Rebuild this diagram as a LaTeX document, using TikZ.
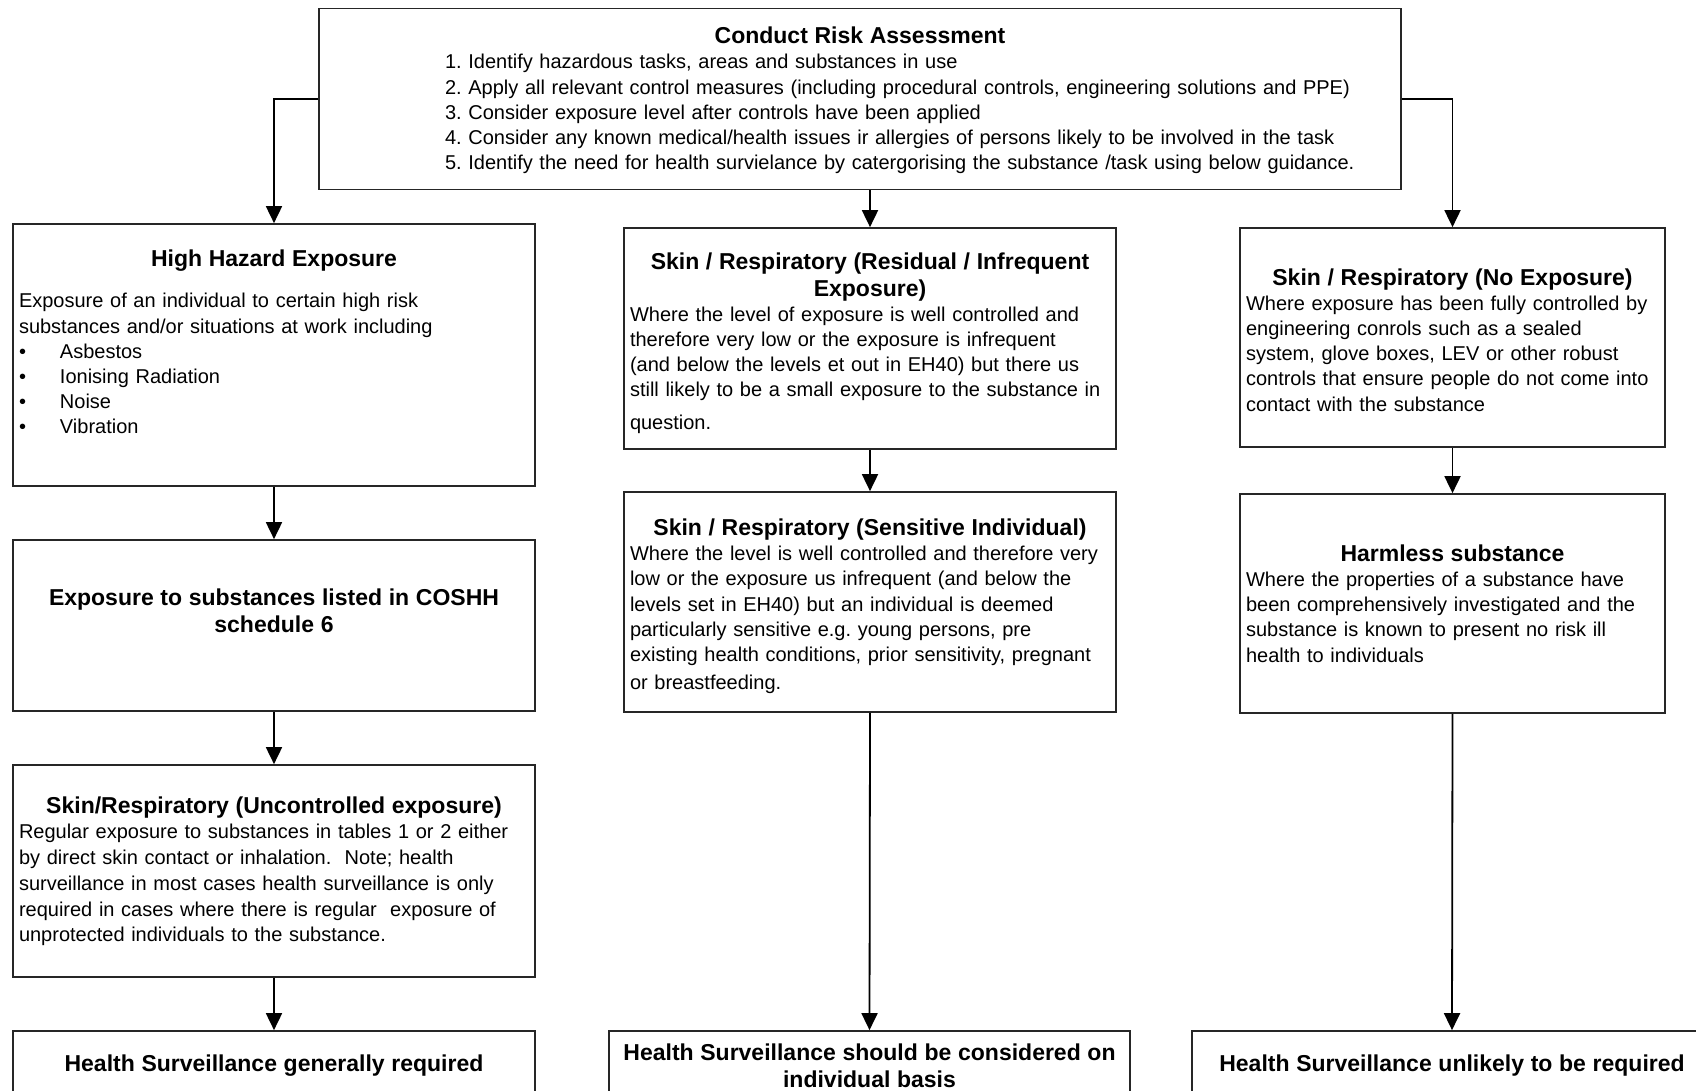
\documentclass[tikz,border=0pt]{standalone}
\usepackage{fontspec}
\setmainfont{Liberation Sans}
\usetikzlibrary{arrows.meta}

\tikzset{boite/.style = {draw=black!85, rectangle, line width=0.85pt,
                         inner xsep=3pt, inner ysep=0pt,
                         text width=#1, align=left,
                         font=\fontsize{10}{12.6}\selectfont\frenchspacing},
         boite/.default=255pt,
         fleche/.style = {line width=0.9pt, -{Triangle[width=8pt,length=8.5pt]}}
        }
\newcommand{\titre}[2][0pt]{{\centering\fontsize{11.5}{13.5}\selectfont\bfseries\rule{0pt}{#1}#2\par}}
\newcommand{\puce}[1]{\makebox[20.5pt][l]{•}#1}
\newcommand{\bas}[1]{\par\nointerlineskip\vspace{#1}\null}

\begin{document}
\begin{tikzpicture}[x=0.5pt,y=-0.5pt]
  \useasboundingbox (0,0) rectangle (1696,1091);
  \clip (0,0) rectangle (1696,1091);

  % evaluation
  \node[boite=535pt, minimum height=90.5pt] (risk) at (860,99)
    {\titre[11.4pt]{Conduct Risk Assessment}
     \hspace*{60pt}\begin{tabular}[t]{@{}l@{}}
     1. Identify hazardous tasks, areas and substances in use\\
     2. Apply all relevant control measures (including procedural controls, engineering solutions and PPE)\\
     3. Consider exposure level after controls have been applied\\
     4. Consider any known medical/health issues ir allergies of persons likely to be involved in the task\\
     5. Identify the need for health survielance by catergorising the substance /task using below guidance.
     \end{tabular}};

  % colonne gauche
  \node[boite, minimum height=131pt] (high) at (274,355)
    {\titre{High Hazard Exposure}\vspace{8pt}
     Exposure of an individual to certain high risk\\
     substances and/or situations at work including\\
     \puce{Asbestos}\\
     \puce{Ionising Radiation}\\
     \puce{Noise}\\
     \puce{Vibration}\bas{13pt}};
  \node[boite, minimum height=85.5pt] (coshh) at (274,625.5)
    {\titre{Exposure to substances listed in COSHH\\ schedule 6}\bas{15pt}};
  \node[boite, minimum height=106pt] (uncont) at (274,871)
    {\titre{Skin/Respiratory (Uncontrolled exposure)}
     \fontsize{10}{12.85}\selectfont
     Regular exposure to substances in tables 1 or 2 either\\
     by direct skin contact or inhalation.\ \ Note; health\\
     surveillance in most cases health surveillance is only\\
     required in cases where there is regular\ \ exposure of\\
     unprotected individuals to the substance.};
  \node[boite, minimum height=34.5pt] (hsreq) at (274,1065.5)
    {\titre{Health Surveillance generally required}};

  % colonne milieu
  \node[boite=240pt, minimum height=110.5pt] (resid) at (870,338.5)
    {\titre[12.7pt]{Skin / Respiratory (Residual / Infrequent\\ Exposure)}
     Where the level of exposure is well controlled and\\
     therefore very low or the exposure is infrequent\\
     (and below the levels et out in EH40) but there us\\
     \mbox{still likely to be a small exposure to the substance in}\\[3.5pt]
     question.};
  \node[boite=240pt, minimum height=110pt] (sensit) at (870,602)
    {\titre[12.7pt]{Skin / Respiratory (Sensitive Individual)}
     \mbox{Where the level is well controlled and therefore very}\\
     low or the exposure us infrequent (and below the\\
     levels set in EH40) but an individual is deemed\\
     particularly sensitive e.g. young persons, pre\\
     \mbox{existing health conditions, prior sensitivity, pregnant}\\[1.5pt]
     or breastfeeding.};
  \node[boite=254.5pt, minimum height=34.5pt] (hscons) at (869.5,1065.5)
    {\titre{Health Surveillance should be considered on\\ individual basis}};

  % colonne droite
  \node[boite=206.5pt, minimum height=109.5pt] (noexp) at (1452.5,337.5)
    {\titre[10.6pt]{Skin / Respiratory (No Exposure)}
     Where exposure has been fully controlled by\\
     engineering conrols such as a sealed\\
     system, glove boxes, LEV or other robust\\
     controls that ensure people do not come into\\
     contact with the substance};
  \node[boite=206.5pt, minimum height=109.5pt] (harmless) at (1452.5,603.5)
    {\titre{Harmless substance}
     Where the properties of a substance have\\
     been comprehensively investigated and the\\
     substance is known to present no risk ill\\
     health to individuals};
  \node[boite=254pt, minimum height=34.5pt] (hsunl) at (1452,1065.5)
    {\titre{Health Surveillance unlikely to be required}};

  % fleches
  \draw[fleche] (risk.west) -| (high.north);
  \draw[fleche] (risk.east) -| (noexp.north);
  \draw[fleche] (risk.south -| resid.north) -- (resid.north);
  \draw[fleche] (high.south) -- (coshh.north);
  \draw[fleche] (coshh.south) -- (uncont.north);
  \draw[fleche] (uncont.south) -- (hsreq.north);
  \draw[fleche] (resid.south) -- (sensit.north);
  \draw[fleche] (sensit.south) -- (hscons.north);
  \draw[fleche] (noexp.south) -- (harmless.north);
  \draw[fleche] (harmless.south) -- (hsunl.north);
\end{tikzpicture}
\end{document}
